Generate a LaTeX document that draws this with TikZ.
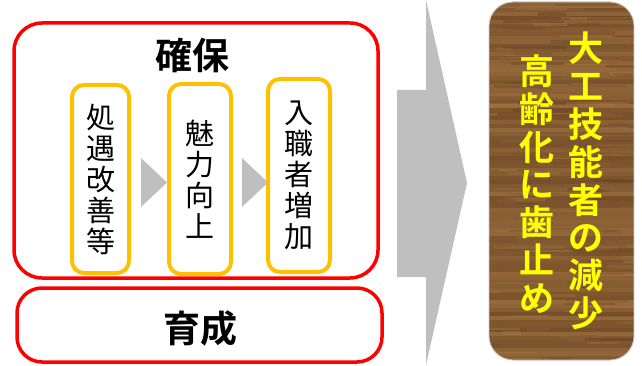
\documentclass[tikz,border=0pt]{standalone}
\usepackage{fontspec}
\setmainfont{Noto Sans CJK JP}[BoldFont={Noto Sans CJK JP Bold}]
\definecolor{redline}{HTML}{FF0000}
\definecolor{orangeline}{HTML}{FFC000}
\definecolor{arrowgray}{HTML}{BFBFBF}
\definecolor{woodmid}{HTML}{85562C}
\definecolor{woodlight}{HTML}{B08048}
\definecolor{wooddark}{HTML}{5E3B1E}
\definecolor{woodtext}{HTML}{FFFF00}
\tikzset{
  redbox/.style={draw=redline, line width=3.5pt, rounded corners=28pt},
  orangebox/.style={draw=orangeline, line width=4pt, rounded corners=12pt},
  chevron/.style={fill=arrowgray, draw=none},
  vtext/.style={align=center, inner sep=0pt, font=\fontsize{29}{31}\selectfont},
  woodtxt/.style={align=center, inner sep=0pt, text=woodtext, font=\bfseries\fontsize{35}{37.8}\selectfont},
  title/.style={inner sep=0pt, font=\bfseries\fontsize{37}{40}\selectfont}
}
\begin{document}
\begin{tikzpicture}[x=1pt,y=-1pt]
\useasboundingbox (0,0) rectangle (642,366);
% big arrow
\fill[arrowgray] (397,90) -- (426,90) -- (426,0) -- (467,183) -- (426,365) -- (426,277) -- (397,277) -- cycle;
% red boxes
\draw[redbox] (14,23) rectangle (378,278);
\draw[redbox, rounded corners=25pt] (17,288) rectangle (382,362);
\node[title] (kakuho) at (192,55) {確保};
\node[title] (ikusei) at (200,328) {育成};
% orange boxes
\draw[orangebox] (72,85) rectangle (129,273);
\draw[orangebox] (169,84) rectangle (231,274);
\draw[orangebox] (268,79) rectangle (330,272);
\node[vtext] (t1) at (101,179) {処\\遇\\改\\善\\等};
\node[vtext] (t2) at (200,179) {魅\\力\\向\\上};
\node[vtext] (t3) at (299,175) {入\\職\\者\\増\\加};
% small chevrons
\fill[chevron] (141,158) -- (167,182.5) -- (141,207) -- cycle;
\fill[chevron] (242,158) -- (268,182.5) -- (242,207) -- cycle;
% wood box
\begin{scope}
\clip[rounded corners=24pt] (489,2) rectangle (634,360);
\fill[woodmid] (489,0) rectangle (634,366);
\pgfmathsetseed{11}
\foreach \i in {0,...,90}{
  \pgfmathsetmacro\yy{\i*4}
  \pgfmathtruncatemacro\mx{30+rnd*40}
  \fill[woodlight!\mx!wooddark] (489,\yy) rectangle (634,\yy+4.2);
}
\foreach \j in {1,...,220}{
  \pgfmathsetmacro\xa{470+rnd*160}
  \pgfmathsetmacro\ln{15+rnd*60}
  \pgfmathsetmacro\yb{rnd*366}
  \pgfmathsetmacro\th{1+rnd*3}
  \pgfmathtruncatemacro\mc{rnd*100}
  \fill[woodlight!\mc!wooddark, opacity=0.35] (\xa,\yb) rectangle (\xa+\ln,\yb+\th);
}
\end{scope}
\draw[rounded corners=24pt, draw=gray!40, line width=0.8pt] (489,2) rectangle (634,360);
\node[woodtxt] (w1) at (586,181) {大\\工\\技\\能\\者\\の\\減\\少};
\node[woodtxt] (w2) at (537,184) {高\\齢\\化\\に\\歯\\止\\め};
\end{tikzpicture}
\end{document}
